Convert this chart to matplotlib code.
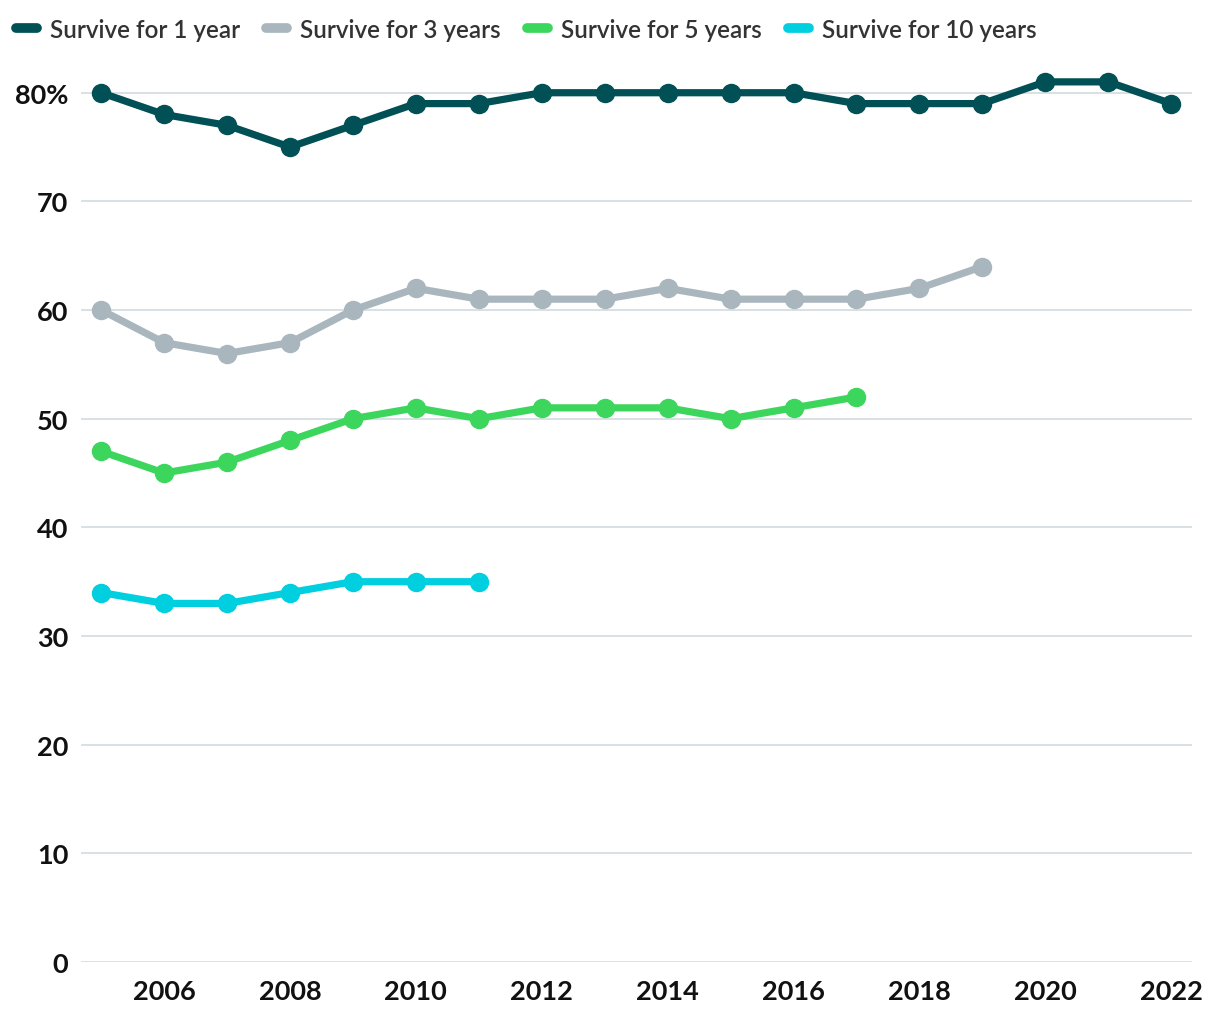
import matplotlib
matplotlib.use("Agg")
import matplotlib.pyplot as plt
from matplotlib.lines import Line2D

plt.rcParams['font.family'] = ['Lato', 'DejaVu Sans']

years_1 = list(range(2005, 2023))
surv_1 = [80, 78, 77, 75, 77, 79, 79, 80, 80, 80, 80, 80, 79, 79, 79, 81, 81, 79]
years_3 = list(range(2005, 2020))
surv_3 = [60, 57, 56, 57, 60, 62, 61, 61, 61, 62, 61, 61, 61, 62, 64]
years_5 = list(range(2005, 2018))
surv_5 = [47, 45, 46, 48, 50, 51, 50, 51, 51, 51, 50, 51, 52]
years_10 = list(range(2005, 2012))
surv_10 = [34, 33, 33, 34, 35, 35, 35]

labels = ["Survive for 1 year", "Survive for 3 years", "Survive for 5 years", "Survive for 10 years"]
colors = ["#005056", "#AAB6BE", "#3DD65D", "#00CFDF"]
xticks = [2006, 2008, 2010, 2012, 2014, 2016, 2018, 2020, 2022]
yticks = [0, 10, 20, 30, 40, 50, 60, 70, 80]
ytick_labels = ["0", "10", "20", "30", "40", "50", "60", "70", "80%"]

fig = plt.figure(figsize=(12.2, 10.2), dpi=100)
ax = fig.add_axes([81/1220, (1020-963)/1020, (1192-81)/1220, (963-72)/1020])

series = [(years_1, surv_1), (years_3, surv_3), (years_5, surv_5), (years_10, surv_10)]
for (x, y), c in zip(series, colors):
    ax.plot(x, y, color=c, lw=5.2, marker='o', ms=13, solid_capstyle='round',
            solid_joinstyle='round', clip_on=False, zorder=3)

ax.set_xlim(2004.68, 2022.33)
ax.set_ylim(0, 82)
ax.set_yticks(yticks)
ax.set_yticklabels(ytick_labels)
ax.set_xticks(xticks)
ax.set_xticklabels([str(t) for t in xticks])
ax.grid(axis='y', color='#D5DEE2', lw=1.3, zorder=0)
ax.set_axisbelow(True)
for s in ax.spines.values():
    s.set_visible(False)
ax.tick_params(axis='both', length=0, labelsize=19.5, labelcolor='#111111')
ax.tick_params(axis='y', pad=9)
ax.tick_params(axis='x', pad=12)
for lab in ax.get_xticklabels() + ax.get_yticklabels():
    lab.set_fontweight('bold')

handles = [Line2D([0], [0], color=c, lw=7, solid_capstyle='round') for c in colors]
leg = fig.legend(handles, labels, loc='center left', bbox_to_anchor=(16/1220, 1 - 30/1020), ncol=4,
                 frameon=False, fontsize=17.5, handlelength=0.85, handletextpad=0.55,
                 columnspacing=1.08, borderaxespad=0, borderpad=0)
for t in leg.get_texts():
    t.set_color('#333333')
    t.set_fontweight('semibold')

fig.savefig("out.png", dpi=100)
